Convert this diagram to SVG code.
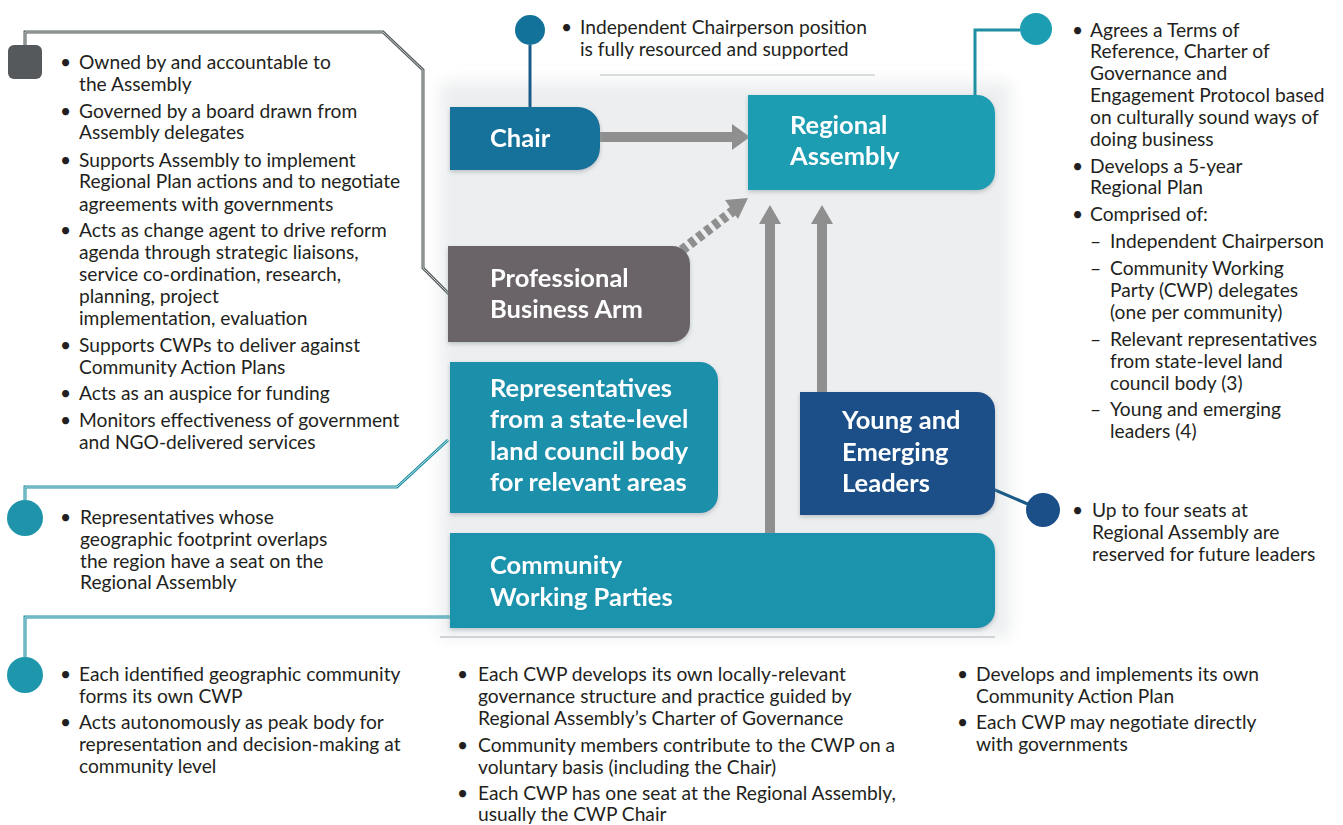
<svg xmlns="http://www.w3.org/2000/svg" width="1343" height="825" viewBox="0 0 1343 825">
<defs>
<style>
.t{font-family:Lato,"Open Sans","Liberation Sans",sans-serif;font-size:19.2px;fill:#231f20}
.h{font-family:Lato,"Open Sans","Liberation Sans",sans-serif;font-size:25.5px;font-weight:bold;fill:#ffffff}
.ar{stroke:#8f8f8f;stroke-width:10;fill:none}
.ah{fill:#8f8f8f}
.cg{stroke:#555a5c;stroke-width:3;fill:none}
.ct{stroke:#1e8fa2;stroke-width:3;fill:none}
.cb{stroke:#1a5a88;stroke-width:3;fill:none}
</style>
<filter id="soft" x="-10%" y="-10%" width="120%" height="120%"><feGaussianBlur stdDeviation="8"/></filter>
<filter id="sh" x="-10%" y="-10%" width="120%" height="130%"><feDropShadow dx="0" dy="2" stdDeviation="2" flood-color="#9aa5aa" flood-opacity="0.6"/></filter>
</defs>
<rect width="1343" height="825" fill="#ffffff"/>
<rect x="440" y="82" width="570" height="555" fill="#eceeef" filter="url(#soft)"/>
<line x1="600" y1="75" x2="875" y2="75" stroke="#cfd3d5" stroke-width="1.5"/>
<line x1="440" y1="637" x2="995" y2="637" stroke="#d0d4d6" stroke-width="2"/>

<g id="connectors">
<path class="ar" d="M600,137 H733"/>
<path class="ah" d="M732,124 L750,137 L732,150 Z"/>
<path class="ar" d="M682,250 L733,211" stroke-dasharray="6 4"/>
<path class="ah" d="M725,200 L748,198 L738,219 Z"/>
<path class="ar" d="M770,533 V222"/>
<path class="ah" d="M759,224 L770,205 L781,224 Z"/>
<path class="ar" d="M822,392 V222"/>
<path class="ah" d="M811,224 L822,205 L833,224 Z"/>
<path class="cg" d="M25,48 V32 H383 L423,70 V268 L452,297"/>
<path d="M25,48 V32 H383 L423,70 V268 L452,297" stroke="#c9cccd" stroke-width="1" fill="none"/>
<path class="cb" d="M530,45 V107" stroke="#12729a"/>
<path class="ct" d="M1020,30 H975 V97"/>
<path class="ct" d="M25,500 V487 H397 L448,440"/>
<path d="M25,500 V487 H397 L448,440" stroke="#bfe3e8" stroke-width="1" fill="none"/>
<path class="ct" d="M25,657 V617 H452"/>
<path d="M25,657 V617 H452" stroke="#bfe3e8" stroke-width="1" fill="none"/>
<path class="cb" d="M988,487 L1030,505"/>
</g>

<g id="icons">
<rect x="8" y="45" width="34" height="34" rx="6" fill="#56595b"/>
<circle cx="530" cy="30" r="15" fill="#12729a"/>
<circle cx="1036" cy="29" r="16" fill="#1c9db2"/>
<circle cx="25" cy="518" r="18" fill="#1e93aa"/>
<circle cx="25" cy="675" r="18" fill="#1e97ad"/>
<circle cx="1043" cy="510" r="17" fill="#1a4f88"/>
</g>

<g id="chair" filter="url(#sh)">
<path d="M450,107 H578 A22,22 0 0 1 600,129 V148 A22,22 0 0 1 578,170 H450 Z" fill="#12729a"/>
<text class="h" x="490" y="147">Chair</text>
</g>
<g id="regional-assembly" filter="url(#sh)">
<path d="M748,95 H977 A18,18 0 0 1 995,113 V172 A18,18 0 0 1 977,190 H748 Z" fill="#1b9db2"/>
<text class="h" x="790" y="134">Regional</text>
<text class="h" x="790" y="165">Assembly</text>
</g>
<g id="professional-business-arm" filter="url(#sh)">
<path d="M448,246 H672 A18,18 0 0 1 690,264 V324 A18,18 0 0 1 672,342 H448 Z" fill="#6a6468"/>
<text class="h" x="490" y="287">Professional</text>
<text class="h" x="490" y="318">Business Arm</text>
</g>
<g id="representatives" filter="url(#sh)">
<path d="M450,362 H700 A18,18 0 0 1 718,380 V495 A18,18 0 0 1 700,513 H450 Z" fill="#1b8fab"/>
<text class="h" x="490" y="397">Representatives</text>
<text class="h" x="490" y="428">from a state-level</text>
<text class="h" x="490" y="460">land council body</text>
<text class="h" x="490" y="491">for relevant areas</text>
</g>
<g id="young-emerging-leaders" filter="url(#sh)">
<path d="M800,392 H977 A18,18 0 0 1 995,410 V497 A18,18 0 0 1 977,515 H800 Z" fill="#1a4f88"/>
<text class="h" x="842" y="429">Young and</text>
<text class="h" x="842" y="461">Emerging</text>
<text class="h" x="842" y="492">Leaders</text>
</g>
<g id="community-working-parties" filter="url(#sh)">
<path d="M450,533 H977 A18,18 0 0 1 995,551 V610 A18,18 0 0 1 977,628 H450 Z" fill="#1e93ad"/>
<text class="h" x="490" y="574">Community</text>
<text class="h" x="490" y="606">Working Parties</text>
</g>

<g id="text-pba">
<text class="t" x="60" y="69">•</text><text class="t" x="79" y="69">Owned by and accountable to</text>
<text class="t" x="79" y="91">the Assembly</text>
<text class="t" x="60" y="118">•</text><text class="t" x="79" y="118">Governed by a board drawn from</text>
<text class="t" x="79" y="139">Assembly delegates</text>
<text class="t" x="60" y="167">•</text><text class="t" x="79" y="167">Supports Assembly to implement</text>
<text class="t" x="79" y="188">Regional Plan actions and to negotiate</text>
<text class="t" x="79" y="211">agreements with governments</text>
<text class="t" x="60" y="237">•</text><text class="t" x="79" y="237">Acts as change agent to drive reform</text>
<text class="t" x="79" y="259">agenda through strategic liaisons,</text>
<text class="t" x="79" y="281">service co-ordination, research,</text>
<text class="t" x="79" y="303">planning, project</text>
<text class="t" x="79" y="325">implementation, evaluation</text>
<text class="t" x="60" y="352">•</text><text class="t" x="79" y="352">Supports CWPs to deliver against</text>
<text class="t" x="79" y="374">Community Action Plans</text>
<text class="t" x="60" y="400">•</text><text class="t" x="79" y="400">Acts as an auspice for funding</text>
<text class="t" x="60" y="427">•</text><text class="t" x="79" y="427">Monitors effectiveness of government</text>
<text class="t" x="79" y="449">and NGO-delivered services</text>
</g>

<g id="text-chair">
<text class="t" x="561" y="34">•</text><text class="t" x="580" y="34">Independent Chairperson position</text>
<text class="t" x="580" y="56">is fully resourced and supported</text>
</g>

<g id="text-ra">
<text class="t" x="1072" y="37">•</text><text class="t" x="1090" y="37">Agrees a Terms of</text>
<text class="t" x="1090" y="58">Reference, Charter of</text>
<text class="t" x="1090" y="80">Governance and</text>
<text class="t" x="1090" y="102">Engagement Protocol based</text>
<text class="t" x="1090" y="124">on culturally sound ways of</text>
<text class="t" x="1090" y="146">doing business</text>
<text class="t" x="1072" y="173">•</text><text class="t" x="1090" y="173">Develops a 5-year</text>
<text class="t" x="1090" y="194">Regional Plan</text>
<text class="t" x="1072" y="221">•</text><text class="t" x="1090" y="221">Comprised of:</text>
<text class="t" x="1090" y="248">–</text><text class="t" x="1110" y="248">Independent Chairperson</text>
<text class="t" x="1090" y="275">–</text><text class="t" x="1110" y="275">Community Working</text>
<text class="t" x="1110" y="297">Party (CWP) delegates</text>
<text class="t" x="1110" y="319">(one per community)</text>
<text class="t" x="1090" y="346">–</text><text class="t" x="1110" y="346">Relevant representatives</text>
<text class="t" x="1110" y="368">from state-level land</text>
<text class="t" x="1110" y="390">council body (3)</text>
<text class="t" x="1090" y="416">–</text><text class="t" x="1110" y="416">Young and emerging</text>
<text class="t" x="1110" y="438">leaders (4)</text>
</g>

<g id="text-yel">
<text class="t" x="1072" y="517">•</text><text class="t" x="1092" y="517">Up to four seats at</text>
<text class="t" x="1092" y="539">Regional Assembly are</text>
<text class="t" x="1092" y="561">reserved for future leaders</text>
</g>

<g id="text-reps">
<text class="t" x="60" y="524">•</text><text class="t" x="80" y="524">Representatives whose</text>
<text class="t" x="80" y="546">geographic footprint overlaps</text>
<text class="t" x="80" y="568">the region have a seat on the</text>
<text class="t" x="80" y="589">Regional Assembly</text>
</g>

<g id="text-cwp">
<text class="t" x="60" y="681">•</text><text class="t" x="79" y="681">Each identified geographic community</text>
<text class="t" x="79" y="703">forms its own CWP</text>
<text class="t" x="60" y="729">•</text><text class="t" x="79" y="729">Acts autonomously as peak body for</text>
<text class="t" x="79" y="751">representation and decision-making at</text>
<text class="t" x="79" y="773">community level</text>
<text class="t" x="457" y="681">•</text><text class="t" x="478" y="681">Each CWP develops its own locally-relevant</text>
<text class="t" x="478" y="703">governance structure and practice guided by</text>
<text class="t" x="478" y="725">Regional Assembly’s Charter of Governance</text>
<text class="t" x="457" y="752">•</text><text class="t" x="478" y="752">Community members contribute to the CWP on a</text>
<text class="t" x="478" y="774">voluntary basis (including the Chair)</text>
<text class="t" x="457" y="800">•</text><text class="t" x="478" y="800">Each CWP has one seat at the Regional Assembly,</text>
<text class="t" x="478" y="821">usually the CWP Chair</text>
<text class="t" x="957" y="681">•</text><text class="t" x="976" y="681">Develops and implements its own</text>
<text class="t" x="976" y="703">Community Action Plan</text>
<text class="t" x="957" y="729">•</text><text class="t" x="976" y="729">Each CWP may negotiate directly</text>
<text class="t" x="976" y="751">with governments</text>
</g>
</svg>
